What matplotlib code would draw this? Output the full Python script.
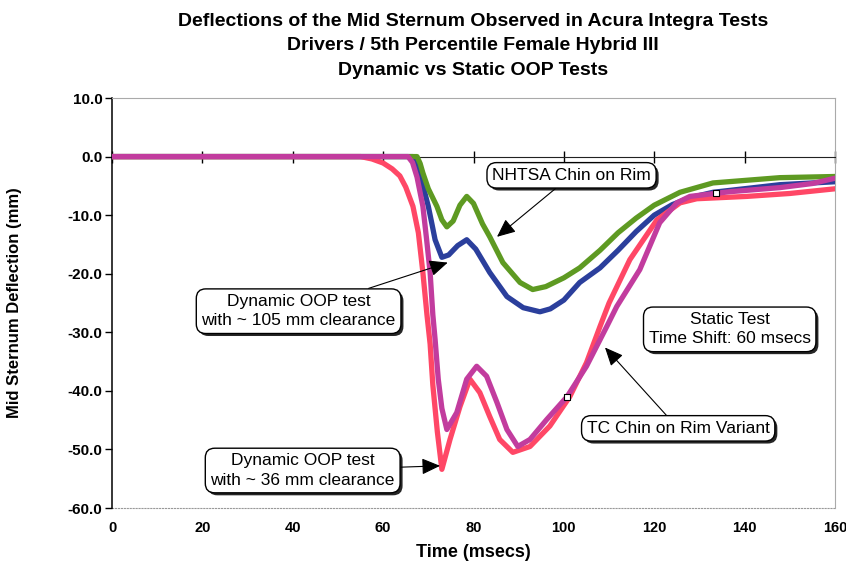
import matplotlib
matplotlib.use("Agg")
import matplotlib.pyplot as plt
import matplotlib.patheffects as pe

plt.rcParams["font.family"] = ["Liberation Sans", "DejaVu Sans"]

# Dynamic OOP test, ~105 mm clearance (blue)
blue_t = [0, 66.6, 67.3, 68.1, 69, 70, 70.8, 71.5, 73, 74.5, 76.5, 78.5, 80.5, 83.6, 87.4, 91,
          94.7, 97, 100, 103.5, 108, 112, 116, 120, 124, 128, 133, 147.8, 160]
blue_y = [0, 0, -1, -2.8, -5.5, -8.5, -11.5, -14.2, -17.2, -16.8, -15.2, -14.2, -15.8, -19.8, -23.9, -25.8,
          -26.5, -26, -24.5, -21.5, -19, -16, -12.8, -10, -8.2, -7, -6.1, -4.8, -4.3]

# NHTSA chin on rim (green)
green_t = [0, 67.5, 68.2, 68.8, 70, 71.9, 73, 74.1, 75.5, 77, 78.5, 80, 82, 83.6, 86.5, 90.3,
           93.1, 96, 100, 103.5, 108, 112, 116, 120, 125.7, 133, 147.8, 160]
green_y = [0, 0, -1.2, -2.8, -5.5, -8.5, -10.8, -12, -11, -8.3, -6.8, -8, -11.5, -13.7, -18.1, -21.5,
           -22.7, -22.2, -20.7, -19.0, -16, -13, -10.5, -8.3, -6.1, -4.5, -3.6, -3.4]

# Dynamic OOP test, ~36 mm clearance (red)
red_t = [0, 55, 57.5, 60, 62, 63.7, 65, 66.6, 67.8, 68.8, 69.7, 70.4, 71, 72, 73, 74.8, 77, 79.2,
         81.4, 83.6, 85.8, 88.7, 92.5, 96.9, 101.3, 105, 108, 110, 114.6, 120.6, 125.7, 129.4,
         140.5, 150, 160]
red_y = [0, 0, -0.4, -1.1, -2.1, -3.3, -5.2, -8.5, -13, -19.8, -27, -32, -39, -47, -53.4, -48.3, -42.7, -38,
         -40.3, -44.4, -48.3, -50.5, -49.5, -46, -41, -35.2, -29, -25, -17.6, -10.8, -7.9, -7.2,
         -6.8, -6.3, -5.5]

# TC chin on rim variant (magenta)
mag_t = [0, 65.5, 66.5, 67.5, 68.8, 69.6, 70.4, 71, 71.5, 72.2, 73, 74.1, 76.3, 78.5, 80.7, 82.9,
         85.2, 87.4, 89.8, 92.5, 96.2, 100.7, 105, 109.5, 111.7, 116.8, 121.2, 125, 127.9, 136.7,
         147.8, 155, 160]
mag_y = [0, 0, -1.0, -3.5, -8.5, -14, -19.8, -27, -31.2, -38, -43, -46.6, -43.7, -38, -35.8, -37.5,
         -42, -46.6, -49.5, -48.3, -44.9, -41, -35.8, -29, -25.6, -19.3, -11.3, -7.9, -6.8, -6.0,
         -5.3, -4.6, -3.7]

marker_t = [100.7, 133.6]
marker_y = [-41, -6.3]

x_ticks = [0, 20, 40, 60, 80, 100, 120, 140, 160]
y_ticks = [10, 0, -10, -20, -30, -40, -50, -60]

fig = plt.figure(figsize=(8.46, 5.68), dpi=100)
ax = fig.add_axes([112 / 846, 1 - 508 / 568, 723 / 846, 410 / 568])

lw = 3.8
ax.plot(blue_t, blue_y, color="#2B3F9C", lw=lw, zorder=3)
ax.plot(green_t, green_y, color="#5E9A22", lw=lw, zorder=3.1)
ax.plot(red_t, red_y, color="#FF4766", lw=lw, zorder=3.2)
ax.plot(mag_t, mag_y, color="#C23C9E", lw=lw, zorder=3.3)
ax.scatter(marker_t, marker_y, marker="s", s=14, facecolor="white", edgecolor="black",
           linewidth=0.8, zorder=4)

ax.set_xlim(0, 160)
ax.set_ylim(-60, 10)
ax.set_xticks(x_ticks)
ax.set_yticks(y_ticks)
ax.set_yticklabels([f"{v:.1f}" for v in y_ticks], fontweight="bold", fontsize=11)

# x axis line crosses at zero, labels stay at the bottom
ax.spines["bottom"].set_position(("data", 0))
ax.spines["bottom"].set_color("#222222")
ax.spines["bottom"].set_zorder(2.5)
ax.tick_params(axis="x", direction="inout", length=9, width=1, labelbottom=False)
ax.tick_params(axis="y", direction="out", length=5, width=1, pad=2)
ax.spines["left"].set_linewidth(1.1)
for s in ["top", "right"]:
    ax.spines[s].set_color("#aaaaaa")
    ax.spines[s].set_linewidth(0.8)

sec = ax.secondary_xaxis("bottom")
sec.set_xticks(x_ticks)
sec.set_xticklabels([str(v) for v in x_ticks], fontweight="bold", fontsize=10.5)
sec.tick_params(length=0, pad=9)
sec.spines["bottom"].set_color("#999999")
sec.spines["bottom"].set_linestyle(":")
sec.spines["bottom"].set_linewidth(0.8)

ax.set_xlabel("Time (msecs)", fontweight="bold", fontsize=13)
ax.xaxis.set_label_coords(0.5, -0.088)
ax.set_ylabel("Mid Sternum Deflection (mm)", fontweight="bold", fontsize=12)
ax.yaxis.set_label_coords(-0.124, 0.5)

fig.text(473 / 846, 1 - 46 / 568,
         "Deflections of the Mid Sternum Observed in Acura Integra Tests\n"
         "Drivers / 5th Percentile Female Hybrid III\n"
         "Dynamic vs Static OOP Tests",
         ha="center", va="center", fontweight="bold", fontsize=14, linespacing=1.6)

box = dict(boxstyle="round,pad=0.3,rounding_size=0.55", facecolor="white", edgecolor="black", lw=1)
arrow = dict(arrowstyle="-|>,head_length=0.9,head_width=0.4", color="black", lw=0.8,
             shrinkA=0, shrinkB=0)
shadow = [pe.SimplePatchShadow(offset=(1.8, -1.8), shadow_rgbFace="black", alpha=0.85), pe.Normal()]

notes = [
    ("NHTSA Chin on Rim", (101.7, -3.2), (85.2, -13.7)),
    ("Dynamic OOP test\nwith ~ 105 mm clearance", (41.3, -26.4), (74.3, -18.1)),
    ("Dynamic OOP test\nwith ~ 36 mm clearance", (42.2, -53.6), (72.6, -52.8)),
    ("Static Test\nTime Shift: 60 msecs", (136.7, -29.5), None),
    ("TC Chin on Rim Variant", (125.3, -46.4), (109.1, -32.6)),
]
for txt, pos, tip in notes:
    if tip is None:
        t = ax.text(pos[0], pos[1], txt, ha="center", va="center", fontsize=12.5,
                    bbox=box, zorder=5, linespacing=1.35)
    else:
        t = ax.annotate(txt, xy=tip, xytext=pos, ha="center", va="center", fontsize=12.5,
                        bbox=box, arrowprops=arrow, zorder=5, linespacing=1.35)
    t.get_bbox_patch().set_path_effects(shadow)

fig.savefig("out.png", dpi=100)
